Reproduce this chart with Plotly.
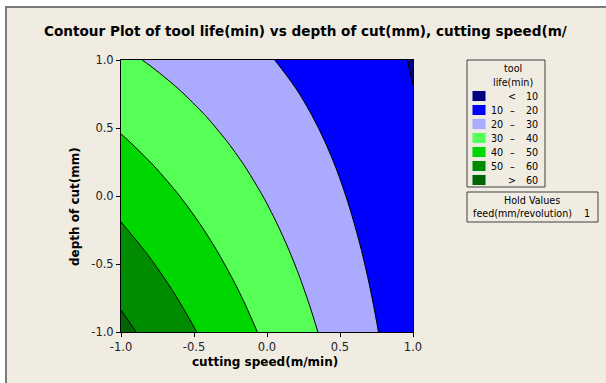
import plotly.graph_objects as go

# ---------------- data ----------------
speed = [-1.0, -0.8, -0.6, -0.4, -0.2, 0.0, 0.2, 0.4, 0.6, 0.8, 1.0]
depth = [-1.0, -0.8, -0.6, -0.4, -0.2, 0.0, 0.2, 0.4, 0.6, 0.8, 1.0]
# tool life(min), one row per depth value (bottom to top), columns follow speed
life = [
    [62.50, 57.68, 52.86, 48.04, 43.22, 38.40, 33.58, 28.76, 23.94, 19.12, 14.30],
    [59.41, 54.85, 50.29, 45.73, 41.18, 36.62, 32.06, 27.50, 22.94, 18.38, 13.83],
    [56.32, 52.02, 47.73, 43.43, 39.13, 34.84, 30.54, 26.24, 21.95, 17.65, 13.35],
    [53.23, 49.19, 45.16, 41.12, 37.09, 33.05, 29.02, 24.98, 20.95, 16.91, 12.88],
    [50.14, 46.37, 42.59, 38.82, 35.05, 31.27, 27.50, 23.72, 19.95, 16.18, 12.40],
    [47.05, 43.54, 40.03, 36.51, 33.00, 29.49, 25.98, 22.47, 18.95, 15.44, 11.93],
    [43.96, 40.71, 37.46, 34.21, 30.96, 27.71, 24.46, 21.21, 17.96, 14.71, 11.46],
    [40.87, 37.88, 34.89, 31.90, 28.91, 25.93, 22.94, 19.95, 16.96, 13.97, 10.98],
    [37.78, 35.05, 32.33, 29.60, 26.87, 24.14, 21.42, 18.69, 15.96, 13.24, 10.51],
    [34.69, 32.22, 29.76, 27.29, 24.83, 22.36, 19.90, 17.43, 14.97, 12.50, 10.03],
    [31.60, 29.40, 27.19, 24.99, 22.78, 20.58, 18.38, 16.17, 13.97, 11.76, 9.56],
]
level_start, level_end, level_size = 10, 60, 10
band_colors = ["#000080", "#0000ff", "#aaaaff", "#55ff55", "#00d700", "#008c00", "#006400"]
band_lo = ["", "10", "20", "30", "40", "50", ""]
band_sep = ["<", "\u2013", "\u2013", "\u2013", "\u2013", "\u2013", ">"]
band_hi = ["10", "20", "30", "40", "50", "60", "60"]
tick_vals = [-1.0, -0.5, 0.0, 0.5, 1.0]
tick_text = ["-1.0", "-0.5", "0.0", "0.5", "1.0"]
title_text = "Contour Plot of tool life(min) vs depth of cut(mm), cutting speed(m/"
x_title = "cutting speed(m/min)"
y_title = "depth of cut(mm)"
legend_title = ["tool", "life(min)"]
hold_name = "feed(mm/revolution)"
hold_value = "1"

# ---------------- layout geometry (pixels) ----------------
W, H = 606, 383
L, R, T, B = 121, 413, 60, 332
BG = "#f0ece2"
FONT = "DejaVu Sans"


def px(x):
    return (x - L) / (R - L)


def py(y):
    return (B - y) / (B - T)


fig = go.Figure()
fig.add_trace(go.Contour(
    x=speed, y=depth, z=life,
    autocontour=False,
    contours=dict(start=level_start, end=level_end, size=level_size, coloring="fill"),
    colorscale=[[i / (len(band_colors) - 1), c] for i, c in enumerate(band_colors)],
    showscale=False,
    line=dict(color="black", width=1, smoothing=1.0),
    hoverinfo="skip",
))

shapes = []
annos = []
# background panel with grey border on top/left
shapes.append(dict(type="rect", xref="paper", yref="paper", layer="below",
                   x0=px(6), x1=px(W + 5), y0=py(H + 5), y1=py(7),
                   fillcolor=BG, line=dict(color="#7a7a7a", width=2)))

# legend box
shapes.append(dict(type="rect", xref="paper", yref="paper",
                   x0=px(467), x1=px(545), y0=py(187), y1=py(60),
                   fillcolor=BG, line=dict(color="#404040", width=1)))
annos.append(dict(text=legend_title[0], x=px(513), y=py(68)))
annos.append(dict(text=legend_title[1], x=px(513), y=py(82.5)))
for i, c in enumerate(band_colors):
    yc = 96 + i * 14
    shapes.append(dict(type="rect", xref="paper", yref="paper",
                       x0=px(472), x1=px(486), y0=py(yc + 5.5), y1=py(yc - 5.5),
                       fillcolor=c, line=dict(color="#e8e8e8", width=1)))
    if band_lo[i]:
        annos.append(dict(text=band_lo[i], x=px(497), y=py(yc)))
    annos.append(dict(text=band_sep[i], x=px(512), y=py(yc)))
    annos.append(dict(text=band_hi[i], x=px(532), y=py(yc)))

# hold values box
shapes.append(dict(type="rect", xref="paper", yref="paper",
                   x0=px(467), x1=px(598), y0=py(222), y1=py(192),
                   fillcolor=BG, line=dict(color="#404040", width=1)))
annos.append(dict(text="Hold Values", x=px(532), y=py(200)))
annos.append(dict(text=hold_name, x=px(522), y=py(213.5)))
annos.append(dict(text=hold_value, x=px(587), y=py(213.5)))

for a in annos:
    a.update(xref="paper", yref="paper", showarrow=False, xanchor="center", yanchor="middle",
             font=dict(family=FONT, size=9.6, color="black"))

# title and axis titles
annos.append(dict(text="<b>%s</b>" % title_text, x=px(305), y=py(31), xref="paper", yref="paper",
                  showarrow=False, xanchor="center", yanchor="middle",
                  font=dict(family=FONT, size=13.6, color="black")))
annos.append(dict(text="<b>%s</b>" % x_title, x=px(265), y=py(362), xref="paper", yref="paper",
                  showarrow=False, xanchor="center", yanchor="middle",
                  font=dict(family=FONT, size=12, color="black")))
annos.append(dict(text="<b>%s</b>" % y_title, x=px(75), y=py(207), xref="paper", yref="paper",
                  showarrow=False, xanchor="center", yanchor="middle", textangle=-90,
                  font=dict(family=FONT, size=12, color="black")))

axis_common = dict(range=[-1, 1], tickvals=tick_vals, ticktext=tick_text, ticks="outside",
                   ticklen=4, tickcolor="black", showline=True, linecolor="black", linewidth=1,
                   mirror=True, showgrid=False, zeroline=False,
                   tickfont=dict(family=FONT, size=11.5, color="#222222"))

fig.update_layout(
    width=W, height=H,
    margin=dict(l=L, r=W - R, t=T, b=H - B, pad=0),
    paper_bgcolor="white", plot_bgcolor=BG,
    xaxis=dict(**axis_common),
    yaxis=dict(**axis_common),
    shapes=shapes, annotations=annos,
    showlegend=False,
)
fig.write_html("out.html")
